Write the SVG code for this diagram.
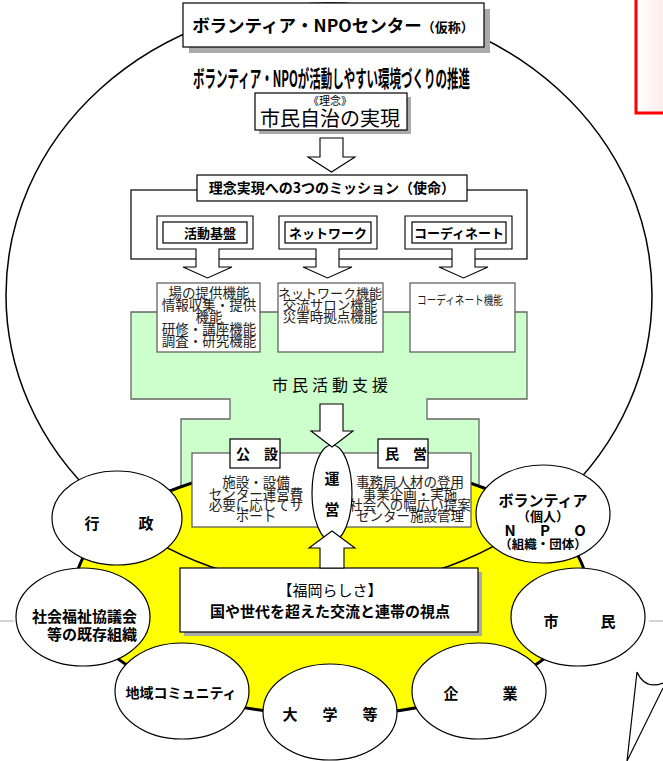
<svg xmlns="http://www.w3.org/2000/svg" width="663" height="761" viewBox="0 0 663 761">
<defs>
<linearGradient id="pink" x1="0" y1="0" x2="1" y2="0"><stop offset="0" stop-color="#ffffff"/><stop offset="1" stop-color="#fbe3e3"/></linearGradient>
<style>
text{font-family:"Noto Sans CJK JP","Noto Sans",sans-serif;fill:#000;text-anchor:middle}
.b{font-weight:bold}
.f{fill:#222;font-size:13.5px}
.box{fill:#fff;stroke:#000;stroke-width:1.2}
.gbox{fill:#fff;stroke:#555;stroke-width:1.2}
.shadow{fill:#aaa}
.circ{fill:#fff;stroke:#000;stroke-width:1.2}
.arrow{fill:#fff;stroke:#000;stroke-width:1.1}
.cl{font-size:15px;font-weight:bold}
</style>
</defs>
<rect width="663" height="761" fill="#fff"/>

<!-- decorations -->
<g id="decor">
<rect x="636" y="-3" width="40" height="116" fill="url(#pink)" stroke="#f00" stroke-width="3"/>
<line x1="0" y1="621" x2="14" y2="621" stroke="#aaa" stroke-width="1"/>
<line x1="649" y1="621" x2="663" y2="621" stroke="#aaa" stroke-width="1"/>
<path d="M637,672 Q645,690 663,683 M637,672 L627,761 M663,688 L627,761" fill="none" stroke="#000" stroke-width="1.2"/>
</g>

<!-- green support area -->
<g id="support">
<polygon points="131,312 527,312 527,399 427,399 427,419 479,419 479,495 181,495 181,419 230,419 230,399 131,399" fill="#ccffcc" stroke="#666" stroke-width="1.3"/>
<text x="332" y="391" font-size="16" letter-spacing="4">市民活動支援</text>
</g>

<!-- yellow area -->
<g id="yellow">
<ellipse cx="331" cy="589" rx="256" ry="126" fill="#ffff00" stroke="#000" stroke-width="3"/>
</g>

<!-- big outer ellipse -->
<g id="outer">
<ellipse cx="329" cy="295" rx="323" ry="292" fill="none" stroke="#000" stroke-width="1.5"/>
</g>

<!-- top title -->
<g id="title">
<rect class="shadow" x="189" y="9" width="301" height="44"/>
<rect class="box" x="183" y="3" width="301" height="44"/>
<text x="333" y="32" class="b" font-size="17.5">ボランティア・NPOセンター<tspan font-size="13">（仮称）</tspan></text>
</g>

<g id="subtitle">
<text x="193" y="87" class="b" font-size="23" style="text-anchor:start" textLength="277" lengthAdjust="spacingAndGlyphs">ボランティア・NPOが活動しやすい環境づくりの推進</text>
</g>

<g id="rinen">
<rect class="shadow" x="259" y="97" width="152" height="37"/>
<rect class="box" x="255" y="93" width="152" height="37"/>
<text x="330" y="105" font-size="11">《理念》</text>
<text x="330" y="126" font-size="20">市民自治の実現</text>
</g>

<!-- missions tray -->
<g id="tray">
<rect class="box" x="131" y="190" width="396" height="69"/>
</g>

<g id="mission">
<rect class="box" x="197" y="175" width="270" height="26"/>
<text x="332" y="193" class="b" font-size="14">理念実現への3つのミッション（使命）</text>
</g>

<g id="m-katsudo">
<polygon class="arrow" points="157,216 253,216 253,249 219,249 219,267 232,267 207.5,278 183,267 196,267 196,249 157,249"/>
<rect class="box" x="163" y="222" width="84" height="21"/>
<text x="210" y="238" class="b" font-size="13">活動基盤</text>
</g>

<g id="m-network">
<polygon class="arrow" points="279,216 377,216 377,249 339,249 339,267 352,267 327.5,278 303,267 316,267 316,249 279,249"/>
<rect class="box" x="285" y="222" width="86" height="21"/>
<text x="328" y="238" class="b" font-size="13">ネットワーク</text>
</g>

<g id="m-coord">
<polygon class="arrow" points="405,216 512,216 512,249 475,249 475,267 488,267 463.5,278 439,267 452,267 452,249 405,249"/>
<rect class="box" x="412" y="222" width="94" height="21"/>
<text x="459" y="238" class="b" font-size="13">コーディネート</text>
</g>

<g id="f-katsudo">
<rect class="gbox" x="157" y="283" width="103" height="69"/>
<text class="f" x="209" y="298">場の提供機能</text>
<text class="f" x="209" y="310">情報収集・提供</text>
<text class="f" x="209" y="322">機能</text>
<text class="f" x="209" y="334">研修・講座機能</text>
<text class="f" x="209" y="346">調査・研究機能</text>
</g>

<g id="f-network">
<rect class="gbox" x="278" y="283" width="105" height="69"/>
<text class="f" x="330" y="298" style="font-size:13px">ネットワーク機能</text>
<text class="f" x="330" y="310">交流サロン機能</text>
<text class="f" x="330" y="322">災害時拠点機能</text>
</g>

<g id="f-coord">
<rect class="gbox" x="410" y="283" width="105" height="69"/>
<text x="460" y="305" font-size="12" style="fill:#222" textLength="86" lengthAdjust="spacingAndGlyphs">コーディネート機能</text>
</g>

<!-- public / private box -->
<g id="kousetsu-minei">
<rect class="gbox" x="192" y="453" width="279" height="74"/>
<text class="f" x="256" y="487">施設・設備</text>
<text class="f" x="256" y="499">センター運営費</text>
<text class="f" x="256" y="510">必要に応じてサ</text>
<text class="f" x="256" y="521">ポート</text>
<text class="f" x="410" y="487">事務局人材の登用</text>
<text class="f" x="410" y="499">事業企画・実施</text>
<text class="f" x="410" y="510">社会への幅広い提案</text>
<text class="f" x="410" y="521">センター施設管理</text>
</g>

<g id="kousetsu">
<rect class="box" x="230" y="439" width="50" height="29"/>
<text x="257" y="459" class="b" font-size="14">公　設</text>
</g>

<g id="minei">
<rect class="box" x="378" y="439" width="50" height="29"/>
<text x="406" y="459" class="b" font-size="14">民　営</text>
</g>

<g id="unei">
<ellipse class="circ" cx="332" cy="493" rx="20" ry="48"/>
<text x="332" y="484" class="b" font-size="15">運</text>
<text x="332" y="515" class="b" font-size="15">営</text>
</g>

<g id="fukuoka">
<rect class="shadow" x="184" y="572" width="298" height="64"/>
<rect class="box" x="180" y="568" width="298" height="64"/>
<text x="330" y="596" font-size="15">【福岡らしさ】</text>
<text x="330" y="617" class="b" font-size="15">国や世代を超えた交流と連帯の視点</text>
</g>

<!-- circles -->
<g id="gyousei">
<ellipse class="circ" cx="117" cy="518" rx="65" ry="47"/>
<text class="cl" y="529"><tspan x="92">行</tspan><tspan x="146">政</tspan></text>
</g>
<g id="volunteer">
<ellipse class="circ" cx="543" cy="514" rx="67" ry="49"/>
<text x="543" y="506" class="b" font-size="15">ボランティア</text>
<text x="543" y="521" class="b" font-size="13">（個人）</text>
<text class="b" font-size="15" y="536"><tspan x="510">N</tspan><tspan x="545">P</tspan><tspan x="580">O</tspan></text>
<text x="543" y="549" class="b" font-size="12.5">（組織・団体）</text>
</g>
<g id="shakyo">
<ellipse class="circ" cx="83" cy="617" rx="67" ry="49"/>
<text class="cl" x="137" y="622" style="text-anchor:end">社会福祉協議会</text>
<text class="cl" x="137" y="640" style="text-anchor:end">等の既存組織</text>
</g>
<g id="shimin">
<ellipse class="circ" cx="578" cy="617" rx="67" ry="49"/>
<text class="cl" y="627"><tspan x="551">市</tspan><tspan x="608">民</tspan></text>
</g>
<g id="chiiki">
<ellipse class="circ" cx="182" cy="691" rx="67" ry="48"/>
<text class="cl" x="181" y="698" style="font-size:14px">地域コミュニティ</text>
</g>
<g id="daigaku">
<ellipse class="circ" cx="330" cy="712" rx="67" ry="48"/>
<text class="cl" y="720"><tspan x="290">大</tspan><tspan x="330">学</tspan><tspan x="370">等</tspan></text>
</g>
<g id="kigyou">
<ellipse class="circ" cx="479" cy="691" rx="67" ry="48"/>
<text class="cl" y="699"><tspan x="451">企</tspan><tspan x="510">業</tspan></text>
</g>

<!-- connectors (block arrows) -->
<g id="connectors">
<polygon class="arrow" points="320,138 343,138 343,157 355,157 331.5,172 308,157 320,157"/>
<polygon class="arrow" points="320,404 343,404 343,431 353,431 332,447 311,431 320,431"/>
<polygon class="arrow" points="320,568 344,568 344,548 355,548 332,531 309,548 320,548"/>
</g>
</svg>
